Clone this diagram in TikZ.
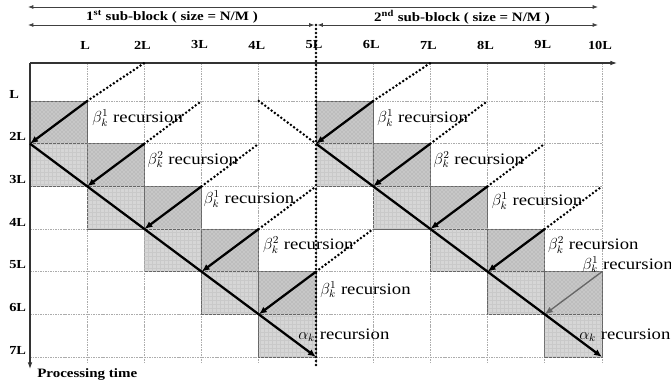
\documentclass[tikz,border=0pt]{standalone}
\usepackage{fontspec}
\setmainfont{Liberation Serif}[FakeStretch=1.17]
\usetikzlibrary{calc,patterns,arrows.meta}

\tikzset{
  gridline/.style={draw=gray!65, line width=0.6pt, dash pattern=on 1.2pt off 0.7pt},
  axis/.style={draw=black!80, line width=0.8pt},
  span/.style={draw=black!75, line width=0.6pt, {Latex[length=4pt,width=3pt]}-{Latex[length=4pt,width=3pt]}},
  speckle/.style={fill=gray!52, draw=black!60, line width=0.6pt,
    postaction={pattern=crosshatch dots, pattern color=gray!15}},
  hatch/.style={fill=gray!32, draw=black!60, line width=0.6pt,
    postaction={pattern=grid, pattern color=gray!42}},
  rec/.style={draw=black, line width=1.7pt, -{Latex[length=6pt,width=5pt]}},
  dots/.style={draw=black, line width=2.1pt, line cap=round, dash pattern=on 0pt off 3pt},
  axlbl/.style={font=\bfseries\fontsize{9.2}{10}\selectfont, inner sep=0pt},
  blklbl/.style={font=\bfseries\fontsize{9.6}{11}\selectfont, inner sep=0pt},
  lbl/.style={font=\fontsize{12}{13}\selectfont, anchor=west, inner sep=0pt}
}

\begin{document}
\begin{tikzpicture}[x=0.75pt,y=0.75pt,yscale=-1,xscale=1]
\useasboundingbox (0,0) rectangle (671,384);

%grid points: column \c = 0..10, row \r = 0..7
\foreach \c in {0,...,10}{
  \coordinate (g\c-0) at ({30+57.2*\c},63);
  \foreach \r in {1,...,7}
    \coordinate (g\c-\r) at ({30+57.2*\c},{101+42.667*(\r-1)});
}
\coordinate (xend) at (617,63);
\coordinate (yend) at (30,369);
\coordinate (sepT) at (316,25);
\coordinate (sepB) at (316,365);
\coordinate (hl1) at (28,7);
\coordinate (hr1) at (598,7);
\coordinate (hl2) at (28,25);
\coordinate (hm2a) at (314.5,25);
\coordinate (hm2b) at (317.5,25);
\coordinate (hr2) at (598,25);

%Grid
\foreach \r in {1,...,7}
  \draw[gridline] (g0-\r) -- (g10-\r);
\foreach \c in {1,...,10}
  \draw[gridline] (g\c-0) -- ($(g\c-7)+(0,5)$);

%Shaded cells
\foreach \k in {1,...,5}{
  \pgfmathtruncatemacro{\a}{\k-1}
  \pgfmathtruncatemacro{\b}{\k+1}
  \pgfmathtruncatemacro{\d}{\k+2}
  \pgfmathtruncatemacro{\e}{\k+4}
  \pgfmathtruncatemacro{\f}{\k+5}
  \path[speckle] (g\a-\k) rectangle (g\k-\b);
  \path[hatch] (g\a-\b) rectangle (g\k-\d);
  \path[speckle] (g\e-\k) rectangle (g\f-\b);
  \path[hatch] (g\e-\b) rectangle (g\f-\d);
}

%Axes
\draw[axis,-{Latex[length=5pt,width=3.5pt]}] (g0-0) -- (xend);
\draw[axis,-{Latex[length=5pt,width=3.5pt]}] (g0-0) -- (yend);

%Sub-block spans
\draw[span] (hl1) -- (hr1);
\draw[span] (hl2) -- (hm2a);
\draw[span] (hm2b) -- (hr2);
\node[blklbl] (blk1) at (172,17) {1\textsuperscript{st} sub-block ( size = N/M )};
\node[blklbl] (blk2) at (462,17) {2\textsuperscript{nd} sub-block ( size = N/M )};

%Axis labels
\foreach \c/\t in {1/L,2/2L,3/3L,4/4L,5/5L,6/6L,7/7L,8/8L,9/9L,10/10L}
  \node[axlbl] (c\c) at ($(g\c-0)+(-2,-18)$) {\t};
\foreach \r/\t in {1/L,2/2L,3/3L,4/4L,5/5L,6/6L,7/7L}
  \node[axlbl, anchor=west] (r\r) at ($(g0-\r)+(-21,-7)$) {\t};
\node[blklbl, anchor=west] (ptime) at (37,374) {Processing time};

%Block separator
\draw[dots] (sepT) -- (sepB);

%Dotted continuations
\foreach \k in {1,...,5}{
  \pgfmathtruncatemacro{\a}{\k+1}
  \pgfmathtruncatemacro{\b}{\k-1}
  \draw[dots] (g\k-\k) -- (g\a-\b);
}
\foreach \k in {1,...,4}{
  \pgfmathtruncatemacro{\a}{\k+5}
  \pgfmathtruncatemacro{\b}{\k+6}
  \pgfmathtruncatemacro{\d}{\k-1}
  \draw[dots] (g\a-\k) -- (g\b-\d);
}
\draw[dots] (g4-1) -- (g5-2);

%Beta recursions
\foreach \k in {1,...,5}{
  \pgfmathtruncatemacro{\a}{\k-1}
  \pgfmathtruncatemacro{\b}{\k+1}
  \draw[rec] (g\k-\k) -- (g\a-\b);
}
\foreach \k in {1,...,4}{
  \pgfmathtruncatemacro{\a}{\k+5}
  \pgfmathtruncatemacro{\b}{\k+4}
  \pgfmathtruncatemacro{\d}{\k+1}
  \draw[rec] (g\a-\k) -- (g\b-\d);
}
\draw[rec, draw=black!60, line width=1pt] (g10-5) -- (g9-6);

%Alpha recursions
\draw[rec] (g0-2) -- (g5-7);
\draw[rec] (g5-2) -- (g10-7);

%Labels
\node[lbl] (b1) at ($(g1-1)+(5,17)$) {$\beta_k^1$ recursion};
\node[lbl] (b2) at ($(g2-2)+(3,16)$) {$\beta_k^2$ recursion};
\node[lbl] (b3) at ($(g3-3)+(2,13)$) {$\beta_k^1$ recursion};
\node[lbl] (b4) at ($(g4-4)+(4,16)$) {$\beta_k^2$ recursion};
\node[lbl] (b5) at ($(g5-5)+(4,18)$) {$\beta_k^1$ recursion};
\node[lbl] (a1) at ($(g5-7)+(-18,-22)$) {$\alpha_k$ recursion};
\node[lbl] (b6) at ($(g6-1)+(4,17)$) {$\beta_k^1$ recursion};
\node[lbl] (b7) at ($(g7-2)+(3,16)$) {$\beta_k^2$ recursion};
\node[lbl] (b8) at ($(g8-3)+(4,15)$) {$\beta_k^1$ recursion};
\node[lbl] (b9) at ($(g9-4)+(3,16)$) {$\beta_k^2$ recursion};
\node[lbl] (b10) at ($(g10-5)+(-20,-7)$) {$\beta_k^1$ recursion};
\node[lbl] (a2) at ($(g10-7)+(-23,-22)$) {$\alpha_k$ recursion};

\end{tikzpicture}
\end{document}
